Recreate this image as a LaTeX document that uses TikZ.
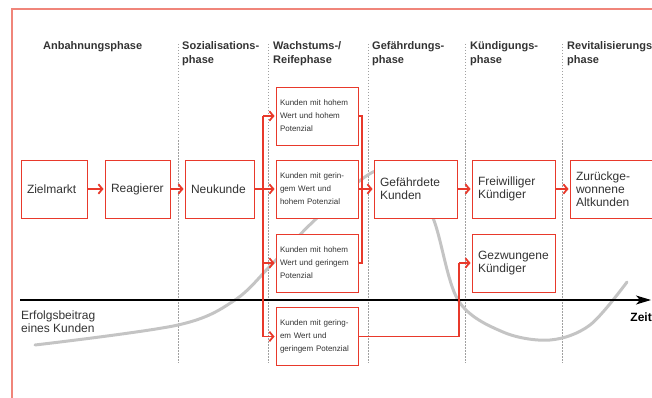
\documentclass[tikz,border=0pt]{standalone}
\usepackage{fontspec}
\setmainfont{Liberation Sans}
\definecolor{crmRed}{HTML}{E8392B}
\definecolor{crmRedLight}{HTML}{F0857A}
\definecolor{crmCurve}{HTML}{C4C4C4}
\definecolor{crmDots}{HTML}{A0A0A0}
\definecolor{crmText}{HTML}{333333}
\usetikzlibrary{calc,arrows.meta}

\tikzset{
  stagebox/.style={draw=crmRed, line width=0.9pt, fill=white, text=crmText, align=left,
    minimum height=58pt, inner sep=6pt, text width=#1, font=\fontsize{12}{13}\selectfont},
  segbox/.style={draw=crmRed, line width=0.9pt, fill=white, text=crmText, align=left,
    minimum height=58pt, inner xsep=4pt, text width=74pt, font=\fontsize{8}{13}\selectfont},
  phaselabel/.style={anchor=base west, align=left, text=crmText, inner sep=0pt,
    font=\fontsize{11}{14}\selectfont\bfseries},
  flow/.style={crmRed, line width=1.8pt, -{Straight Barb[length=4pt,width=9.5pt]}, shorten >=1pt},
  link/.style={crmRed, line width=1.2pt},
  divider/.style={crmDots, line width=0.7pt, dash pattern=on 1.5pt off 1.5pt},
}

\begin{document}
\begin{tikzpicture}[x=1pt, y=-1pt]
  \useasboundingbox (0,0) rectangle (652,398);
  % open frame
  \draw[crmRedLight, line width=1.2pt] (12,398) -- (12,9) -- (652,9);
  % phase dividers
  \foreach \x in {178,268,368,465,562}
    \draw[divider] (\x,44) -- (\x,363);
  % phase headings (base = last line)
  \node[phaselabel] (hAnbahnung) at (43,50) {Anbahnungsphase};
  \node[phaselabel] (hSozial) at (182,64) {Sozialisations-\\phase};
  \node[phaselabel] (hWachstum) at (273,64) {Wachstums-/\\Reifephase};
  \node[phaselabel] (hGefahr) at (372,64) {Gefährdungs-\\phase};
  \node[phaselabel] (hKuendigung) at (470,64) {Kündigungs-\\phase};
  \node[phaselabel] (hRevital) at (567,64) {Revitalisierungs-\\phase};

  % success contribution curve (runs behind the boxes)
  \draw[crmCurve, line width=3pt, line cap=round] plot[smooth, tension=0.55] coordinates {
    (35,345) (178,325) (235,300) (273,263) (317,218) (373,172) (405,175)
    (433,218) (458,300) (503,332) (550,340) (590,325) (627,282)};

  % time axis
  \coordinate (axisStart) at (20,300);
  \coordinate (axisEnd) at (651,300);
  \draw[black, line width=1.1pt, -{Stealth[length=15pt,width=9pt,inset=4pt]}] (axisStart) -- (axisEnd);
  \node[anchor=base east, inner sep=0pt, font=\fontsize{12}{14}\selectfont\bfseries] (zeit) at (652,321) {Zeit};
  \node[anchor=base west, inner sep=0pt, align=left, text=crmText, font=\fontsize{12}{13}\selectfont]
    (erfolg) at (21,332) {Erfolgsbeitrag\\eines Kunden};

  % customer stages
  \node[stagebox=54pt] (zielmarkt) at (54,189) {Zielmarkt};
  \node[stagebox=53pt] (reagierer) at (137.5,189) {Reagierer};
  \node[stagebox=57pt] (neukunde) at (219.5,189) {Neukunde};
  \node[segbox] (segA) at (317,116) {Kunden mit hohem\\Wert und hohem\\Potenzial};
  \node[segbox] (segB) at (317,189) {Kunden mit gerin-\\gem Wert und\\hohem Potenzial};
  \node[segbox] (segC) at (317,263) {Kunden mit hohem\\Wert und geringem\\Potenzial};
  \node[segbox] (segD) at (317,336.5) {Kunden mit gering-\\em Wert und\\geringem Potenzial};
  \node[stagebox=71pt] (gefaehrdet) at (415.5,189) {Gefährdete\\Kunden};
  \node[stagebox=71pt] (freiwillig) at (513.5,189) {Freiwilliger\\Kündiger};
  \node[stagebox=71pt] (gezwungen) at (513.5,263) {Gezwungene\\Kündiger};
  \node[stagebox=70pt] (rueckgewonnen) at (611,189) {Zurückge-\\wonnene\\Altkunden};

  % flow between stages
  \draw[flow] (zielmarkt) -- (reagierer);
  \draw[flow] (reagierer) -- (neukunde);
  \coordinate (fork) at (263,0);
  \draw[link] (fork |- segA.west) -- (fork |- segD.west);
  \draw[flow] (neukunde) -- (segB);
  \foreach \s in {segA,segC,segD}
    \draw[flow] (fork |- \s.west) -- (\s.west);
  \coordinate (merge) at (362,0);
  \draw[link] (segA.east) -| (merge |- segC.east) -- (segC.east);
  \draw[flow] (segB) -- (gefaehrdet);
  \coordinate (drop) at (459,0);
  \draw[link] (segD.east) -| (drop |- gezwungen.west);
  \draw[flow] (drop |- gezwungen.west) -- (gezwungen.west);
  \draw[flow] (gefaehrdet) -- (freiwillig);
  \draw[flow] (freiwillig) -- (rueckgewonnen);
\end{tikzpicture}
\end{document}
